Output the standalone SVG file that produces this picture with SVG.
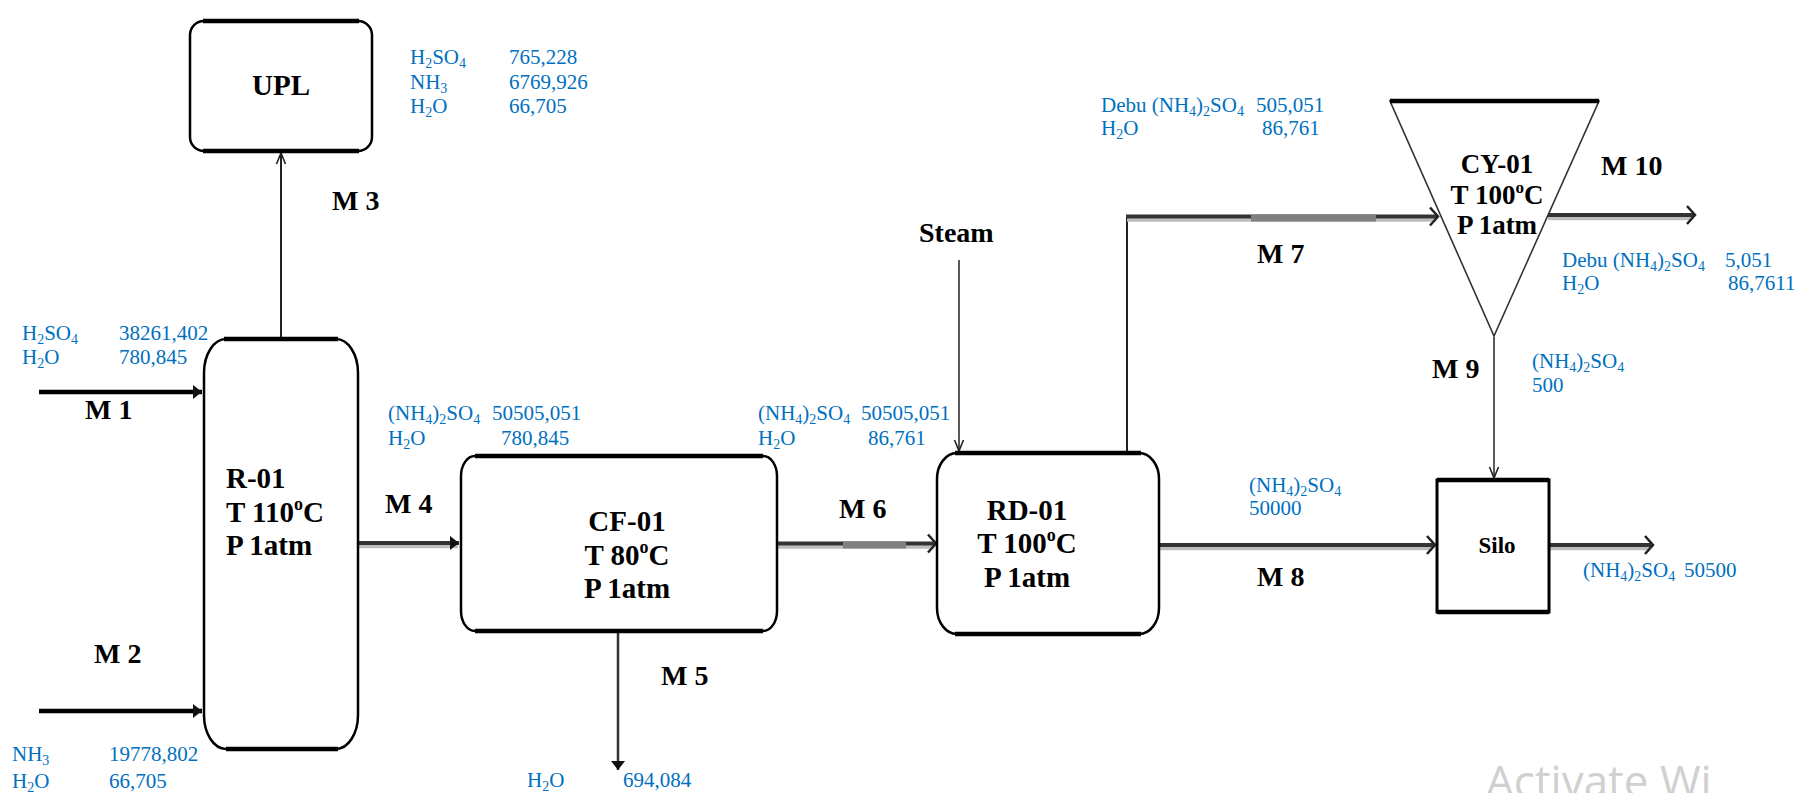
<svg xmlns="http://www.w3.org/2000/svg" width="1797" height="793" viewBox="0 0 1797 793">
<style>
.u{font-family:"Liberation Serif",serif;font-weight:bold;font-size:29px;fill:#000}
.cy{font-family:"Liberation Serif",serif;font-weight:bold;font-size:27px;fill:#000}
.m{font-family:"Liberation Serif",serif;font-weight:bold;font-size:28px;fill:#000}
.q{font-family:"Liberation Serif",serif;font-size:21px;fill:#0070C0}
.s{font-size:14px}
.box{fill:#fff;stroke:#000;stroke-width:2.5}
.edge{stroke:#000;stroke-width:4.5}
.dk{stroke:#333;stroke-width:4;fill:none}
.lt{stroke:#bdbdbd;stroke-width:3.5;fill:none}
.gr{stroke:#808080;stroke-width:7;fill:none}
.thin{stroke:#222;stroke-width:2;fill:none}
</style>
<defs>
<marker id="fa" viewBox="-11 -9 13 18" refX="0" refY="0" markerWidth="13" markerHeight="18" orient="auto" markerUnits="userSpaceOnUse"><path d="M-9,-7 L0,0 L-9,7 Z" fill="#111"/></marker>
<marker id="oa" viewBox="-12 -11 14 22" refX="0" refY="0" markerWidth="14" markerHeight="22" orient="auto" markerUnits="userSpaceOnUse"><path d="M-8,-9 L0,0 L-8,9" fill="none" stroke="#222" stroke-width="2.5"/></marker>
<marker id="va" viewBox="-12 -6 14 12" refX="0" refY="0" markerWidth="14" markerHeight="12" orient="auto" markerUnits="userSpaceOnUse"><path d="M-11,-4.5 L0,0 L-11,4.5" fill="none" stroke="#222" stroke-width="1.6"/></marker>
</defs>

<g id="connectors">
<line x1="39" y1="392" x2="202" y2="392" stroke="#000" stroke-width="4.5" marker-end="url(#fa)"/>
<line x1="39" y1="711" x2="202" y2="711" stroke="#000" stroke-width="4.5" marker-end="url(#fa)"/>
<line x1="281" y1="338" x2="281" y2="153" class="thin" marker-end="url(#va)"/>
<line x1="358" y1="546.5" x2="458" y2="546.5" class="lt"/>
<line x1="358" y1="543" x2="459" y2="543" class="dk" marker-end="url(#fa)"/>
<line x1="618" y1="632" x2="618" y2="770" stroke="#333" stroke-width="2.5" marker-end="url(#fa)"/>
<line x1="777" y1="547" x2="934" y2="547" class="lt"/>
<line x1="777" y1="543.5" x2="936" y2="543.5" class="dk" marker-end="url(#oa)"/>
<line x1="843" y1="545" x2="906" y2="545" class="gr"/>
<line x1="959" y1="260" x2="959" y2="451" stroke="#222" stroke-width="1.5" marker-end="url(#va)"/>
<path d="M1127,452 V218" class="thin" stroke="#555"/>
<line x1="1127" y1="220" x2="1436" y2="220" class="lt"/>
<line x1="1126" y1="216.5" x2="1438" y2="216.5" class="dk" marker-end="url(#oa)"/>
<line x1="1251" y1="218" x2="1376" y2="218" class="gr"/>
<line x1="1160" y1="548.5" x2="1432" y2="548.5" class="lt"/>
<line x1="1160" y1="545" x2="1435" y2="545" class="dk" marker-end="url(#oa)"/>
<line x1="1494" y1="337" x2="1494" y2="478" stroke="#222" stroke-width="1.5" marker-end="url(#va)"/>
<line x1="1548" y1="218.5" x2="1692" y2="218.5" class="lt"/>
<line x1="1548" y1="215" x2="1695" y2="215" class="dk" marker-end="url(#oa)"/>
<line x1="1550" y1="548.5" x2="1650" y2="548.5" class="lt"/>
<line x1="1550" y1="545" x2="1653" y2="545" class="dk" marker-end="url(#oa)"/>
</g>

<g id="UPL">
<rect x="190" y="21" width="182" height="130" rx="14" class="box"/>
<line x1="203" y1="21" x2="359" y2="21" class="edge"/>
<line x1="203" y1="151" x2="359" y2="151" class="edge"/>
<text x="281" y="95" class="u" text-anchor="middle">UPL</text>
</g>

<g id="R-01">
<rect x="204" y="339" width="154" height="410" rx="22" ry="34" class="box"/>
<line x1="224" y1="339" x2="338" y2="339" class="edge"/>
<line x1="226" y1="749" x2="338" y2="749" class="edge"/>
<text class="u"><tspan x="226" y="488">R-01</tspan><tspan x="226" y="522">T 110<tspan font-size="18" dy="-12">o</tspan><tspan dy="12">C</tspan></tspan><tspan x="226" y="555">P 1atm</tspan></text>
</g>

<g id="CF-01">
<rect x="461" y="456" width="316" height="175" rx="14" ry="20" class="box"/>
<line x1="475" y1="456" x2="763" y2="456" class="edge"/>
<line x1="475" y1="631" x2="763" y2="631" class="edge"/>
<text class="u" text-anchor="middle"><tspan x="627" y="531">CF-01</tspan><tspan x="627" y="565">T 80<tspan font-size="18" dy="-12">o</tspan><tspan dy="12">C</tspan></tspan><tspan x="627" y="598">P 1atm</tspan></text>
</g>

<g id="RD-01">
<rect x="937" y="453" width="222" height="181" rx="20" ry="26" class="box"/>
<line x1="955" y1="453" x2="1141" y2="453" class="edge"/>
<line x1="955" y1="634" x2="1141" y2="634" class="edge"/>
<text class="u" text-anchor="middle"><tspan x="1027" y="520">RD-01</tspan><tspan x="1027" y="553">T 100<tspan font-size="18" dy="-12">o</tspan><tspan dy="12">C</tspan></tspan><tspan x="1027" y="587">P 1atm</tspan></text>
</g>

<g id="CY-01">
<polygon points="1390,101 1599,101 1494,336" fill="#fff" stroke="#333" stroke-width="1.6"/>
<line x1="1390" y1="101" x2="1599" y2="101" class="edge"/>
<text class="cy" text-anchor="middle"><tspan x="1497" y="173">CY-01</tspan><tspan x="1497" y="204">T 100<tspan font-size="17" dy="-11">o</tspan><tspan dy="11">C</tspan></tspan><tspan x="1497" y="234">P 1atm</tspan></text>
</g>

<g id="Silo">
<rect x="1437" y="480" width="112" height="132" fill="#fff" stroke="#000" stroke-width="3"/>
<line x1="1437" y1="480" x2="1549" y2="480" class="edge"/>
<line x1="1437" y1="612" x2="1549" y2="612" class="edge"/>
<text x="1497" y="553" class="u" style="font-size:23px" text-anchor="middle">Silo</text>
</g>

<g id="labels">
<text x="332" y="210" class="m">M 3</text>
<text x="85" y="419" class="m">M 1</text>
<text x="94" y="663" class="m">M 2</text>
<text x="385" y="513" class="m">M 4</text>
<text x="661" y="685" class="m">M 5</text>
<text x="839" y="518" class="m">M 6</text>
<text x="919" y="242" class="m">Steam</text>
<text x="1257" y="263" class="m">M 7</text>
<text x="1257" y="586" class="m">M 8</text>
<text x="1432" y="378" class="m">M 9</text>
<text x="1601" y="175" class="m">M 10</text>
</g>

<g id="streams">
<text x="410" y="64" class="q">H<tspan class="s" dy="4">2</tspan><tspan dy="-4">SO</tspan><tspan class="s" dy="4">4</tspan></text>
<text x="509" y="64" class="q">765,228</text>
<text x="410" y="89" class="q">NH<tspan class="s" dy="4">3</tspan></text>
<text x="509" y="89" class="q">6769,926</text>
<text x="410" y="113" class="q">H<tspan class="s" dy="4">2</tspan><tspan dy="-4">O</tspan></text>
<text x="509" y="113" class="q">66,705</text>

<text x="22" y="340" class="q">H<tspan class="s" dy="4">2</tspan><tspan dy="-4">SO</tspan><tspan class="s" dy="4">4</tspan></text>
<text x="119" y="340" class="q">38261,402</text>
<text x="22" y="364" class="q">H<tspan class="s" dy="4">2</tspan><tspan dy="-4">O</tspan></text>
<text x="119" y="364" class="q">780,845</text>

<text x="12" y="761" class="q">NH<tspan class="s" dy="4">3</tspan></text>
<text x="109" y="761" class="q">19778,802</text>
<text x="12" y="788" class="q">H<tspan class="s" dy="4">2</tspan><tspan dy="-4">O</tspan></text>
<text x="109" y="788" class="q">66,705</text>

<text x="388" y="420" class="q">(NH<tspan class="s" dy="4">4</tspan><tspan dy="-4">)</tspan><tspan class="s" dy="4">2</tspan><tspan dy="-4">SO</tspan><tspan class="s" dy="4">4</tspan></text>
<text x="492" y="420" class="q">50505,051</text>
<text x="388" y="445" class="q">H<tspan class="s" dy="4">2</tspan><tspan dy="-4">O</tspan></text>
<text x="501" y="445" class="q">780,845</text>

<text x="527" y="787" class="q">H<tspan class="s" dy="4">2</tspan><tspan dy="-4">O</tspan></text>
<text x="623" y="787" class="q">694,084</text>

<text x="758" y="420" class="q">(NH<tspan class="s" dy="4">4</tspan><tspan dy="-4">)</tspan><tspan class="s" dy="4">2</tspan><tspan dy="-4">SO</tspan><tspan class="s" dy="4">4</tspan></text>
<text x="861" y="420" class="q">50505,051</text>
<text x="758" y="445" class="q">H<tspan class="s" dy="4">2</tspan><tspan dy="-4">O</tspan></text>
<text x="868" y="445" class="q">86,761</text>

<text x="1101" y="112" class="q">Debu (NH<tspan class="s" dy="4">4</tspan><tspan dy="-4">)</tspan><tspan class="s" dy="4">2</tspan><tspan dy="-4">SO</tspan><tspan class="s" dy="4">4</tspan></text>
<text x="1256" y="112" class="q">505,051</text>
<text x="1101" y="135" class="q">H<tspan class="s" dy="4">2</tspan><tspan dy="-4">O</tspan></text>
<text x="1262" y="135" class="q">86,761</text>

<text x="1562" y="267" class="q">Debu (NH<tspan class="s" dy="4">4</tspan><tspan dy="-4">)</tspan><tspan class="s" dy="4">2</tspan><tspan dy="-4">SO</tspan><tspan class="s" dy="4">4</tspan></text>
<text x="1725" y="267" class="q">5,051</text>
<text x="1562" y="290" class="q">H<tspan class="s" dy="4">2</tspan><tspan dy="-4">O</tspan></text>
<text x="1728" y="290" class="q">86,7611</text>

<text x="1532" y="368" class="q">(NH<tspan class="s" dy="4">4</tspan><tspan dy="-4">)</tspan><tspan class="s" dy="4">2</tspan><tspan dy="-4">SO</tspan><tspan class="s" dy="4">4</tspan></text>
<text x="1532" y="392" class="q">500</text>

<text x="1249" y="492" class="q">(NH<tspan class="s" dy="4">4</tspan><tspan dy="-4">)</tspan><tspan class="s" dy="4">2</tspan><tspan dy="-4">SO</tspan><tspan class="s" dy="4">4</tspan></text>
<text x="1249" y="515" class="q">50000</text>

<text x="1583" y="577" class="q">(NH<tspan class="s" dy="4">4</tspan><tspan dy="-4">)</tspan><tspan class="s" dy="4">2</tspan><tspan dy="-4">SO</tspan><tspan class="s" dy="4">4</tspan></text>
<text x="1684" y="577" class="q">50500</text>
</g>

<text x="1486" y="797" font-family="'Open Sans',sans-serif" font-size="44" fill="#d0d0d0">Activate Wi</text>
</svg>
